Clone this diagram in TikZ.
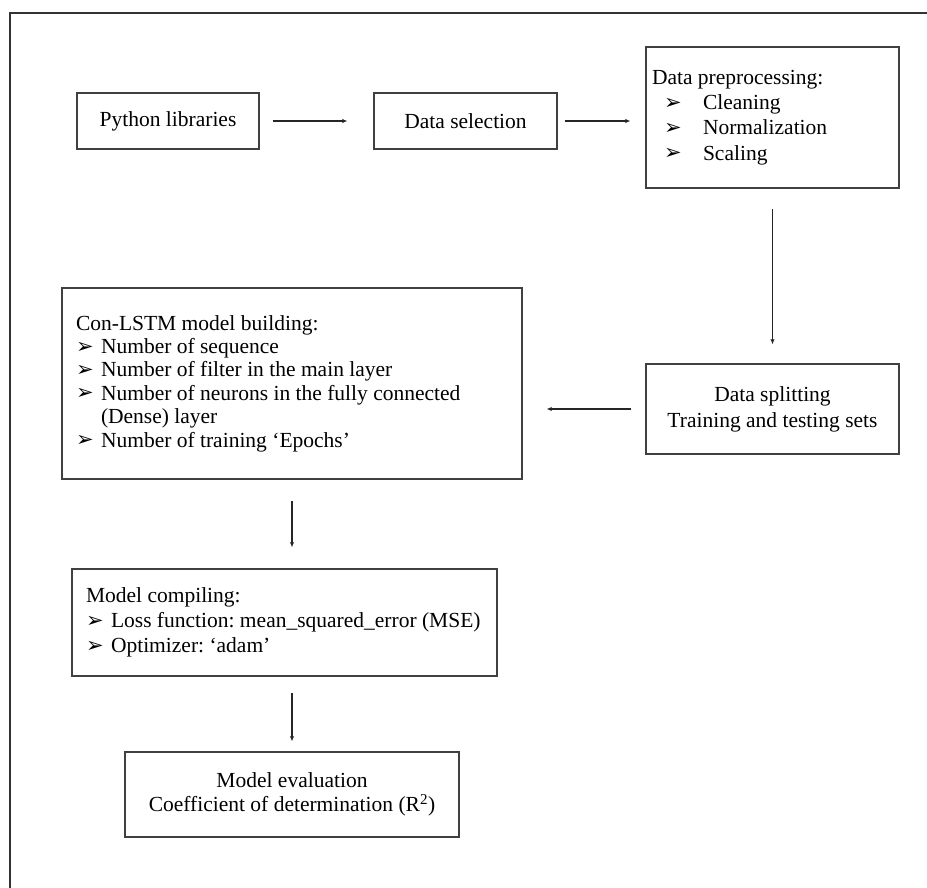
\documentclass[tikz,border=0pt]{standalone}
\usepackage{fontspec}
\setmainfont{Liberation Serif}
\newfontfamily\dvfont{DejaVu Sans}
\usetikzlibrary{arrows.meta}
\frenchspacing
\newcommand{\bulbox}[1]{\makebox[#1][l]{\raisebox{0.5pt}{\dvfont\fontsize{21}{21}\selectfont ➢}}}
\begin{document}
\frenchspacing
\begin{tikzpicture}[x=1pt,y=-1pt,
  box/.style={draw=black!75, line width=1.4pt, inner sep=0pt, rectangle},
  listbox/.style={box, align=flush left, inner xsep=14pt},
  arr/.style={draw=black!85, line width=1.3pt, -{Latex[length=5pt,width=4.5pt]}},
  txt/.style={font=\fontsize{21.5}{24}\selectfont}
]
\useasboundingbox (0,0) rectangle (927,888);
\fill[white] (0,0) rectangle (927,888);
\draw[line width=1.5pt, black!80] (10,888) -- (10,13) -- (927,13);

\node[box, txt, minimum width=182pt, minimum height=56pt] (py) at (168,121) {Python libraries};
\node[box, txt, minimum width=183pt, minimum height=56pt] (sel) at (465.5,121) {Data selection};
\node[listbox, inner xsep=6pt, text width=241pt, minimum height=141pt, font=\fontsize{21.5}{25.3}\selectfont] (pre) at (772.5,117.5)
  {Data preprocessing:\\
   \hspace*{12pt}\bulbox{39pt}Cleaning\\
   \hspace*{12pt}\bulbox{39pt}Normalization\\
   \hspace*{12pt}\bulbox{39pt}Scaling};
\node[box, align=flush center, minimum width=253pt, minimum height=90pt, font=\fontsize{21.5}{26}\selectfont] (split) at (772.5,409)
  {Data splitting\\Training and testing sets};
\node[listbox, text width=432pt, minimum height=191pt, font=\fontsize{21.5}{23.4}\selectfont] (lstm) at (292,383.5)
  {Con-LSTM model building:\\
   \bulbox{25pt}Number of sequence\\
   \bulbox{25pt}Number of filter in the main layer\\
   \bulbox{25pt}Number of neurons in the fully connected\\
   \hspace*{25pt}(Dense) layer\\
   \bulbox{25pt}Number of training ‘Epochs’};
\node[listbox, text width=397pt, minimum height=107pt, font=\fontsize{21.5}{25}\selectfont] (comp) at (284.5,622.5)
  {Model compiling:\\
   \bulbox{25pt}Loss function: mean\_squared\_error (MSE)\\
   \bulbox{25pt}Optimizer: ‘adam’};
\node[box, align=flush center, minimum width=334pt, minimum height=85pt, font=\fontsize{21.5}{24}\selectfont] (eval) at (292,794.5)
  {Model evaluation\\Coefficient of determination (R\textsuperscript{2})};

\draw[arr, shorten <=13pt, shorten >=26pt] (py.east) -- (sel.west);
\draw[arr, shorten <=7pt, shorten >=15pt] (sel.east) -- (sel.east -| pre.west);
\draw[arr, shorten <=20pt, shorten >=19pt] (pre.south) -- (split.north);
\draw[arr, shorten <=14pt, shorten >=24pt] (split.west) -- (split.west -| lstm.east);
\draw[arr, shorten <=21pt, shorten >=21pt] (lstm.south) -- (lstm.south |- comp.north);
\draw[arr, shorten <=16pt, shorten >=10pt] (lstm.south |- comp.south) -- (eval.north);
\end{tikzpicture}
\end{document}
